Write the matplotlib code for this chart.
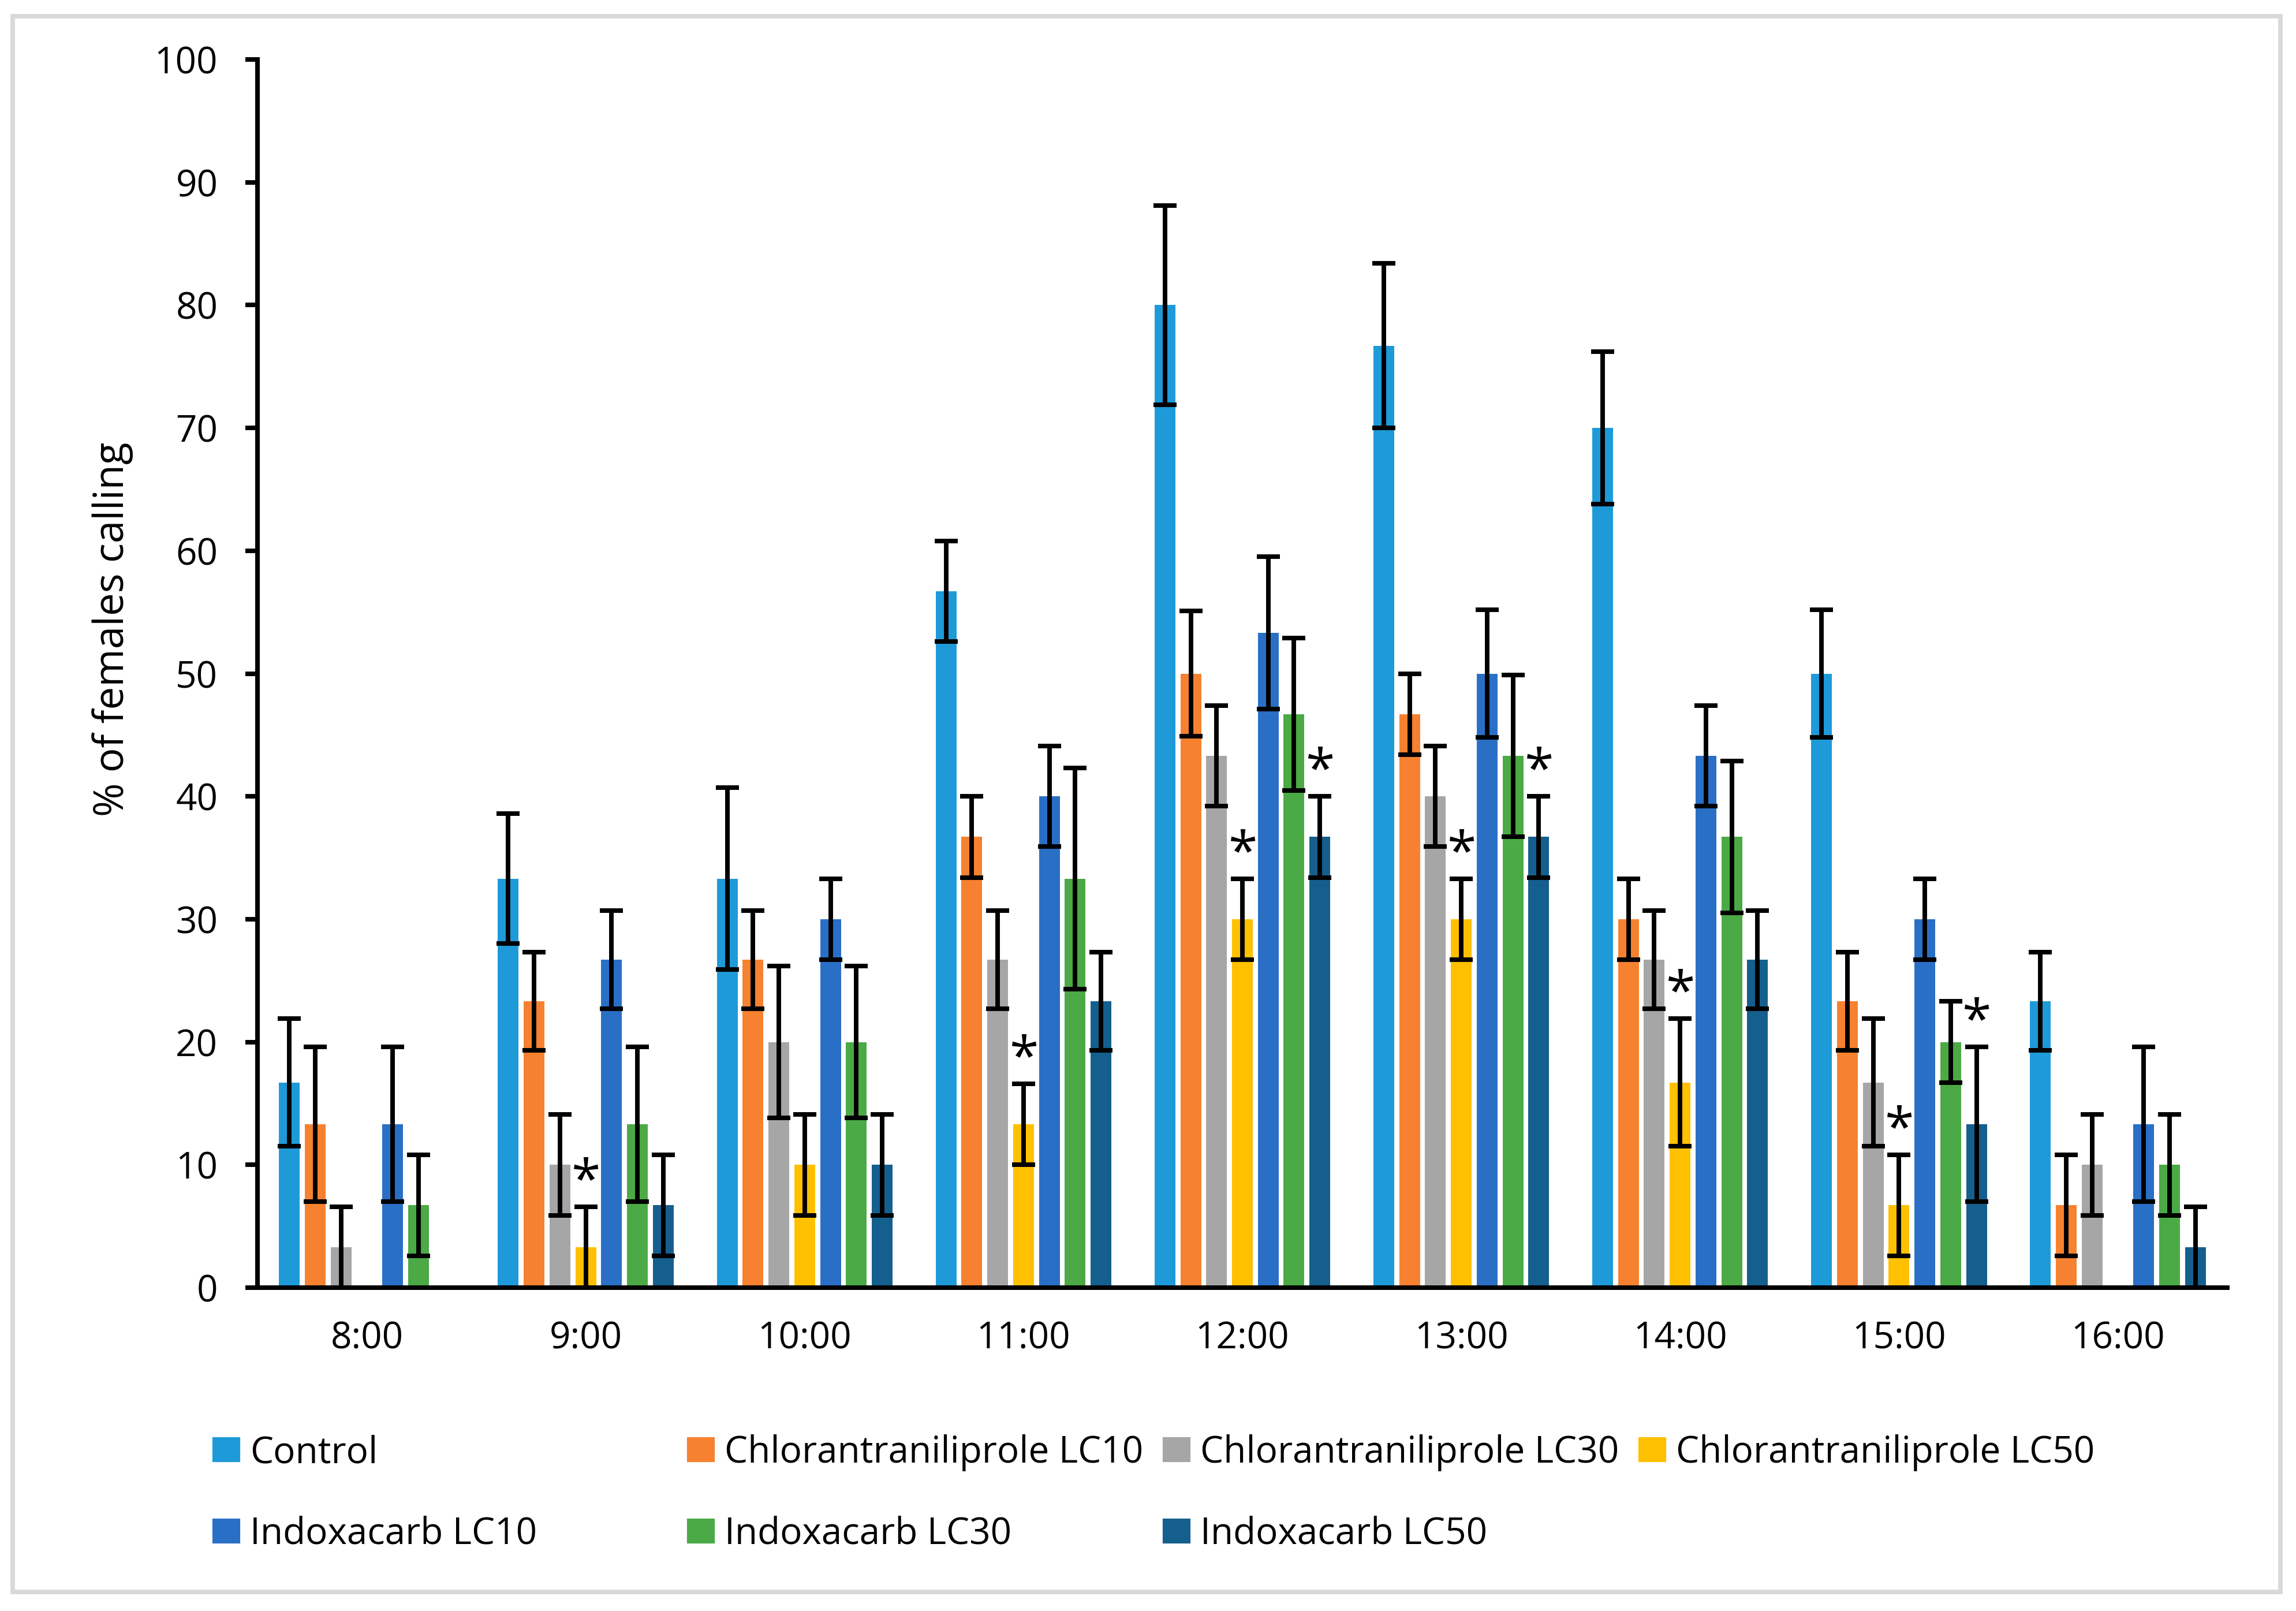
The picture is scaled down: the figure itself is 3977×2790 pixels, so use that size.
import numpy as np
import matplotlib
matplotlib.use("Agg")
import matplotlib.pyplot as plt
from matplotlib.patches import Rectangle

plt.rcParams['font.family'] = ['Open Sans', 'DejaVu Sans']

hours = ["8:00", "9:00", "10:00", "11:00", "12:00", "13:00", "14:00", "15:00", "16:00"]
series = ["Control", "Chlorantraniliprole LC10", "Chlorantraniliprole LC30",
          "Chlorantraniliprole LC50", "Indoxacarb LC10", "Indoxacarb LC30", "Indoxacarb LC50"]
colors = ["#1E9AD9", "#F68130", "#A6A6A6", "#FFC000", "#2A6FC6", "#4BAA45", "#155F8E"]

control      = [16.7, 33.3, 33.3, 56.7, 80.0, 76.7, 70.0, 50.0, 23.3]
chlor_lc10   = [13.3, 23.3, 26.7, 36.7, 50.0, 46.7, 30.0, 23.3, 6.7]
chlor_lc30   = [3.3, 10.0, 20.0, 26.7, 43.3, 40.0, 26.7, 16.7, 10.0]
chlor_lc50   = [0.0, 3.3, 10.0, 13.3, 30.0, 30.0, 16.7, 6.7, 0.0]
indox_lc10   = [13.3, 26.7, 30.0, 40.0, 53.3, 50.0, 43.3, 30.0, 13.3]
indox_lc30   = [6.7, 13.3, 20.0, 33.3, 46.7, 43.3, 36.7, 20.0, 10.0]
indox_lc50   = [0.0, 6.7, 10.0, 23.3, 36.7, 36.7, 26.7, 13.3, 3.3]

control_se    = [5.2, 5.3, 7.4, 4.1, 8.1, 6.7, 6.2, 5.2, 4.0]
chlor_lc10_se = [6.3, 4.0, 4.0, 3.3, 5.1, 3.3, 3.3, 4.0, 4.1]
chlor_lc30_se = [3.3, 4.1, 6.2, 4.0, 4.1, 4.1, 4.0, 5.2, 4.1]
chlor_lc50_se = [0.0, 3.3, 4.1, 3.3, 3.3, 3.3, 5.2, 4.1, 0.0]
indox_lc10_se = [6.3, 4.0, 3.3, 4.1, 6.2, 5.2, 4.1, 3.3, 6.3]
indox_lc30_se = [4.1, 6.3, 6.2, 9.0, 6.2, 6.6, 6.2, 3.3, 4.1]
indox_lc50_se = [0.0, 4.1, 4.1, 4.0, 3.3, 3.3, 4.0, 6.3, 3.3]

values = [control, chlor_lc10, chlor_lc30, chlor_lc50, indox_lc10, indox_lc30, indox_lc50]
errors = [control_se, chlor_lc10_se, chlor_lc30_se, chlor_lc50_se, indox_lc10_se, indox_lc30_se, indox_lc50_se]

# significance markers: (hour index, series index)
stars = [(1, 3), (3, 3), (4, 3), (4, 6), (5, 3), (5, 6), (6, 3), (7, 3), (7, 6)]

W, H = 3977, 2790
fig = plt.figure(figsize=(W / 300, H / 300), dpi=300)
ax = fig.add_axes([446 / W, 1 - 2230 / H, (3858 - 446) / W, (2230 - 103) / H])

x = np.arange(len(hours))
step = 0.118
bw = 0.095
for i, (vals, errs, col) in enumerate(zip(values, errors, colors)):
    pos = x + (i - 3) * step
    ax.bar(pos, vals, width=bw, color=col, zorder=2)
    v = np.array(vals)
    e = np.array(errs)
    m = (v > 0) | (e > 0)
    ax.errorbar(pos[m], v[m], yerr=e[m], fmt='none', ecolor='black',
                elinewidth=1.9, capsize=4.8, capthick=1.9, zorder=3)

for (h, s) in stars:
    top = values[s][h] + errors[s][h]
    ax.annotate("*", xy=(x[h] + (s - 3) * step, top), xytext=(0, 4),
                textcoords='offset points', ha='center', va='baseline',
                fontsize=22, color='black', zorder=4)

ax.set_xlim(-0.5, len(hours) - 0.5)
ax.set_ylim(0, 100)
ax.set_yticks(np.arange(0, 101, 10))
ax.set_xticks(x)
ax.set_xticklabels(hours)
for sp in ['top', 'right']:
    ax.spines[sp].set_visible(False)
for sp in ['left', 'bottom']:
    ax.spines[sp].set_linewidth(1.9)
    ax.spines[sp].set_color('black')
ax.tick_params(axis='x', length=0, pad=13.5, labelsize=15.3)
ax.tick_params(axis='y', length=5, width=1.9, pad=11.5, labelsize=15.3, direction='out')

fig.text(195 / W, 1 - 1090 / H, "% of females calling", rotation=90,
         ha='center', va='center', fontsize=17)

# legend (manual, Excel-like grid)
col_x = [370, 1192, 2016, 2840]
row_y = [2510, 2651]
for i, (lab, col) in enumerate(zip(series, colors)):
    r, c = divmod(i, 4)
    px, py = col_x[c], row_y[r]
    fig.patches.append(Rectangle((px / W, 1 - (py + 20) / H), 44 / W, 39 / H,
                                 transform=fig.transFigure, color=col))
    fig.text((px + 63) / W, 1 - (py + 23) / H, lab, ha='left', va='baseline',
             fontsize=15.3)

# outer frame
fig.patches.append(Rectangle((22 / W, 33 / H), (3950 - 22) / W, (2762 - 33) / H,
                             transform=fig.transFigure, fill=False,
                             edgecolor='#D9D9D9', linewidth=1.9))

fig.savefig("out.png", dpi=300)
